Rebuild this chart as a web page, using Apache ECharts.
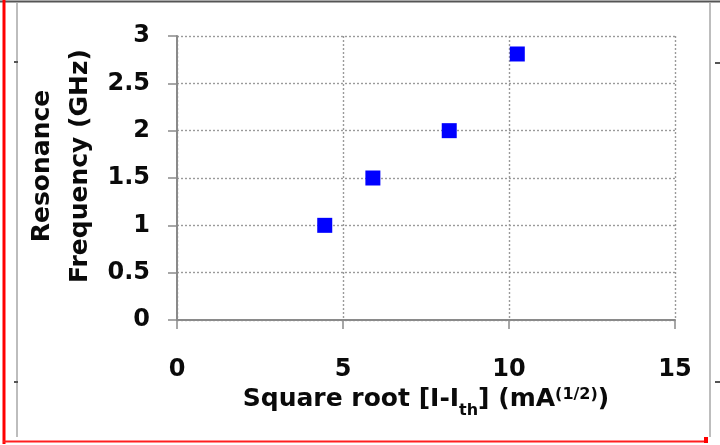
<!DOCTYPE html>
<html>
<head>
<meta charset="utf-8">
<style>
  html, body { margin: 0; padding: 0; background: #ffffff; }
  #chart { width: 720px; height: 445px; }
</style>
<script src="https://cdn.jsdelivr.net/npm/echarts@6/dist/echarts.min.js"></script>
</head>
<body>
<div id="chart"></div>
<script>
// Measured resonance frequency against the square root of the drive current above threshold
const sqrtCurrent = [4.45, 5.9, 8.2, 10.25];   // sqrt(I - Ith), mA^(1/2)
const resonanceGHz = [1.0, 1.5, 2.0, 2.81];    // GHz

const xTicks = { min: 0, max: 15, interval: 5 };
const yTicks = { min: 0, max: 3, interval: 0.5 };

const FONT = 'DejaVu Sans';
const INK = '#0a0a0a';

const chart = echarts.init(document.getElementById('chart'), null, { renderer: 'canvas' });

const gridStyle = { color: '#9a9a9a', width: 1.4, type: [2, 2] };
const axisStyle = { color: '#8a8a8a', width: 2 };

chart.setOption({
  backgroundColor: '#ffffff',
  animation: false,
  grid: { left: 177, right: 45, top: 36, bottom: 125, containLabel: false },
  xAxis: {
    type: 'value',
    min: xTicks.min, max: xTicks.max, interval: xTicks.interval,
    axisLine: { show: true, onZero: false, lineStyle: axisStyle },
    axisTick: { show: true, inside: false, length: 9, lineStyle: { color: '#8a8a8a', width: 1.5 } },
    splitLine: { show: true, lineStyle: gridStyle },
    axisLabel: { margin: 38, fontFamily: FONT, fontWeight: 'bold', fontSize: 24, color: INK },
    name: '{m|Square root [I-I}{s|th}{m|] (mA}{p|(1/2)}{m|)}',
    nameLocation: 'middle',
    nameGap: 59,
    nameMoveOverlap: false,
    nameTextStyle: {
      rich: {
        m: { fontFamily: FONT, fontWeight: 'bold', fontSize: 25, color: INK },
        s: { fontFamily: FONT, fontWeight: 'bold', fontSize: 16, color: INK, padding: [24, 0, 0, 0] },
        p: { fontFamily: FONT, fontWeight: 'bold', fontSize: 16, color: INK, padding: [0, 0, 8, 0] }
      }
    }
  },
  yAxis: {
    type: 'value',
    min: yTicks.min, max: yTicks.max, interval: yTicks.interval,
    axisLine: { show: true, onZero: false, lineStyle: axisStyle },
    axisTick: { show: true, inside: false, length: 9, lineStyle: { color: '#8a8a8a', width: 1.5 } },
    splitLine: { show: true, lineStyle: gridStyle },
    axisLabel: { margin: 27, fontFamily: FONT, fontWeight: 'bold', fontSize: 24, color: INK },
    name: 'Resonance\nFrequency (GHz)',
    nameLocation: 'middle',
    nameGap: 78,
    nameMoveOverlap: false,
    nameTextStyle: {
      fontFamily: FONT, fontWeight: 'bold', fontSize: 25, color: INK,
      lineHeight: 38, padding: [0, 0, 0, 24]
    }
  },
  series: [{
    type: 'scatter',
    data: sqrtCurrent.map((x, i) => [x, resonanceGHz[i]]),
    symbol: 'rect',
    symbolSize: 15,
    itemStyle: { color: '#0000ff', opacity: 1 }
  }],
  graphic: [
    // outer slide frame
    { type: 'line', shape: { x1: 0, y1: 1.5, x2: 720, y2: 1.5 }, style: { stroke: '#555', lineWidth: 2 }, silent: true },
    { type: 'line', shape: { x1: 17, y1: 3, x2: 17, y2: 437 }, style: { stroke: '#bdbdbd', lineWidth: 2 }, silent: true },
    { type: 'line', shape: { x1: 710, y1: 3, x2: 710, y2: 437 }, style: { stroke: '#bdbdbd', lineWidth: 2 }, silent: true },
    { type: 'line', shape: { x1: 14, y1: 62, x2: 18, y2: 62 }, style: { stroke: '#555', lineWidth: 2 }, silent: true },
    { type: 'line', shape: { x1: 14, y1: 382, x2: 18, y2: 382 }, style: { stroke: '#555', lineWidth: 2 }, silent: true },
    { type: 'line', shape: { x1: 715, y1: 63, x2: 720, y2: 63 }, style: { stroke: '#555', lineWidth: 2 }, silent: true },
    { type: 'line', shape: { x1: 715, y1: 382, x2: 720, y2: 382 }, style: { stroke: '#555', lineWidth: 2 }, silent: true },
    // red selection outline
    { type: 'rect', shape: { x: 2.5, y: 0, width: 3, height: 444 }, style: { fill: '#ff0000' }, silent: true },
    { type: 'rect', shape: { x: 3, y: 440.5, width: 704, height: 2 }, style: { fill: '#ff2020' }, silent: true },
    { type: 'rect', shape: { x: 704, y: 437, width: 4, height: 6 }, style: { fill: '#ff0000' }, silent: true }
  ]
});
</script>
</body>
</html>
